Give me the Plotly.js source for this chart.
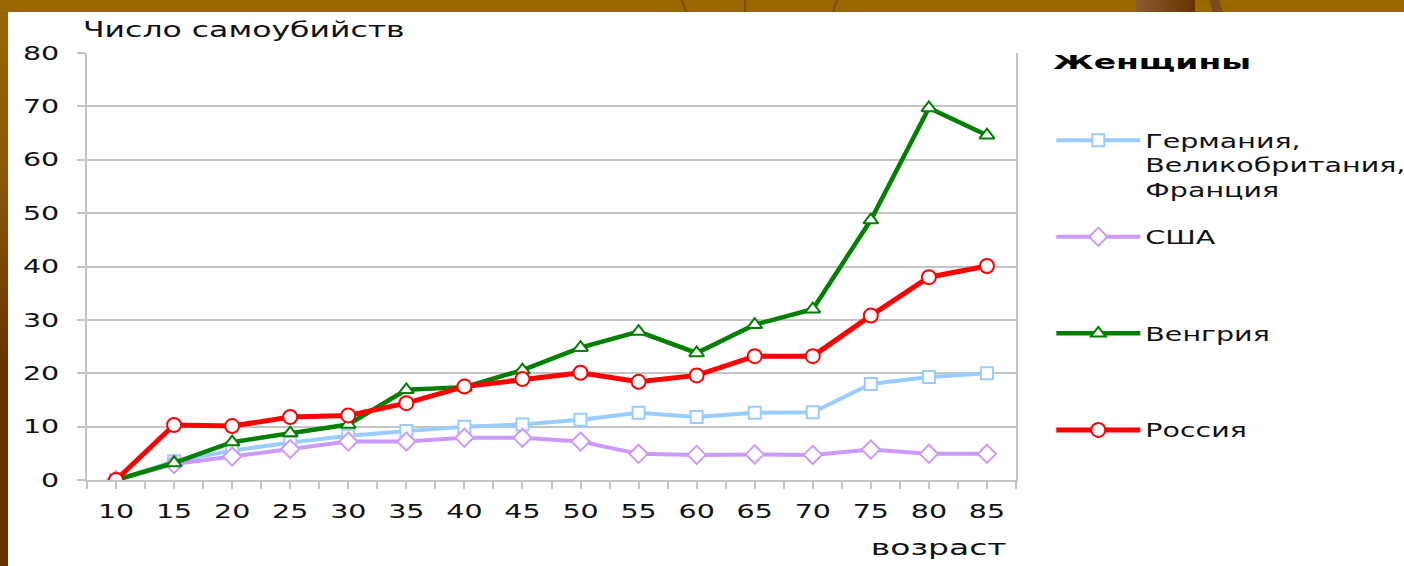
<!DOCTYPE html>
<html>
<head>
<meta charset="utf-8">
<script src="https://cdn.plot.ly/plotly-3.0.1.min.js"></script>
<style>
  html, body { margin: 0; padding: 0; background: #ffffff; }
  #wrap { position: relative; width: 1404px; height: 566px; overflow: hidden; background: #ffffff; }
  #chart { position: absolute; left: 0; top: 0; width: 1404px; height: 566px; }
  .deco { position: absolute; pointer-events: none; }
</style>
</head>
<body>
<div id="wrap">
  <div id="chart"></div>
  <div class="deco" style="left:0;top:0;width:1404px;height:12px;background:#996600;"></div>
  <div class="deco" style="left:0;top:0;width:8px;height:566px;background:linear-gradient(#996600 0%, #8a5a08 30%, #663300 65%, #663300 100%);"></div>
  <div class="deco" style="left:683px;top:0;width:2px;height:12px;background:#7a4a14;transform:skewX(20deg);"></div>
  <div class="deco" style="left:744px;top:0;width:2px;height:12px;background:#7a4a14;"></div>
  <div class="deco" style="left:834px;top:0;width:2px;height:12px;background:#7a4a14;transform:skewX(-20deg);"></div>
  <div class="deco" style="left:1136px;top:0;width:59px;height:12px;background:linear-gradient(90deg,#8c5a2e,#663300);"></div>
  <div class="deco" style="left:1211px;top:0;width:10px;height:12px;background:#7a4a1e;transform:skewX(15deg);"></div>
</div>
<script>
// ---- data ----
var ages = [10, 15, 20, 25, 30, 35, 40, 45, 50, 55, 60, 65, 70, 75, 80, 85];
var germanyUkFrance = [0, 3.5, 5.5, 7, 8.3, 9.2, 10, 10.4, 11.3, 12.6, 11.8, 12.6, 12.7, 18, 19.3, 20];
var usa = [0, 3, 4.4, 5.8, 7.2, 7.2, 7.9, 7.9, 7.2, 4.9, 4.7, 4.8, 4.7, 5.7, 4.9, 4.9];
var hungary = [0, 3.2, 7.1, 8.8, 10.4, 16.9, 17.4, 20.6, 24.8, 27.8, 23.8, 29.1, 32, 48.7, 69.7, 64.6];
var russia = [0, 10.3, 10.1, 11.8, 12.1, 14.4, 17.5, 18.9, 20.1, 18.4, 19.6, 23.2, 23.2, 30.8, 38, 40.1];

var seriesNames = ['Германия,<br>Великобритания,<br>Франция', 'США<br> <br> ', 'Венгрия<br> <br> ', 'Россия'];
var yTitle = 'Число самоубийств';
var xTitle = 'возраст';
var legendTitle = 'Женщины';

var FONT = 'DejaVu Sans, Verdana, sans-serif';
var TXT = '#111111';
var GRID = '#c4c4c4';

function series(y, name, color, symbol, lw, ms, group) {
  return {
    type: 'scatter', mode: 'lines+markers',
    x: ages, y: y, name: name, legendgroup: group,
    line: { color: color, width: lw },
    marker: { symbol: symbol, size: ms, color: '#ffffff', line: { color: color, width: 2 } },
    hoverinfo: 'x+y'
  };
}

var data = [
  series(germanyUkFrance, seriesNames[0], '#99CCFF', 'square', 4, 12, 'g1'),
  series(usa, seriesNames[1], '#CC99FF', 'diamond', 4, 14, 'g2'),
  series(hungary, seriesNames[2], '#008000', 'triangle-up', 4.5, 13, 'g3'),
  series(russia, seriesNames[3], '#FF0000', 'circle', 5, 14, 'g4')
];

var layout = {
  width: 1404, height: 566,
  margin: { l: 87, r: 388, t: 53, b: 86, autoexpand: false },
  paper_bgcolor: '#ffffff', plot_bgcolor: '#ffffff',
  font: { family: FONT, size: 19, color: TXT },
  xaxis: {
    range: [7.5, 87.5], tickmode: 'linear', tick0: 10, dtick: 5,
    showgrid: false, zeroline: false,
    showline: true, linecolor: GRID, linewidth: 2,
    ticks: 'outside', ticklen: 7, tickwidth: 2, tickcolor: GRID,
    minor: { tick0: 7.5, dtick: 5, ticks: 'outside', ticklen: 7, tickwidth: 2, tickcolor: GRID, showgrid: false },
    tickfont: { family: FONT, size: 19, color: TXT },
    ticklabelstandoff: 6,
    fixedrange: true
  },
  yaxis: {
    range: [0, 80], tickmode: 'linear', tick0: 0, dtick: 10,
    showgrid: true, gridcolor: GRID, gridwidth: 2, zeroline: false,
    showline: true, linecolor: GRID, linewidth: 2, mirror: true,
    ticks: 'outside', ticklen: 8, tickwidth: 2, tickcolor: GRID,
    tickfont: { family: FONT, size: 19, color: TXT },
    ticklabelstandoff: 14,
    fixedrange: true
  },
  showlegend: true,
  legend: {
    xref: 'paper', x: 1.038, xanchor: 'left',
    yref: 'container', y: 0.9235, yanchor: 'top',
    bgcolor: 'rgba(0,0,0,0)', borderwidth: 0,
    font: { family: FONT, size: 19, color: TXT },
    title: { text: legendTitle + '<br> <br> ', side: 'top', font: { family: FONT, size: 20, color: '#000000', weight: 'bold' } },
    valign: 'top', tracegroupgap: 19.5, itemwidth: 84,
    traceorder: 'grouped'
  },
  annotations: [
    { xref: 'paper', yref: 'paper', x: -0.006, y: 1.054, xanchor: 'left', yanchor: 'middle', align: 'left',
      text: yTitle, showarrow: false, font: { family: FONT, size: 21, color: TXT } },
    { xref: 'paper', yref: 'paper', x: 0.992, y: -0.158, xanchor: 'right', yanchor: 'middle', align: 'right',
      text: xTitle, showarrow: false, font: { family: FONT, size: 22, color: TXT } }
  ]
};

function stretchEl(el, k) {
  if (!el.textContent || !el.textContent.trim()) return;
  var w = el.getComputedTextLength();
  if (w > 1) {
    el.setAttribute('textLength', (w * k).toFixed(1));
    el.setAttribute('lengthAdjust', 'spacingAndGlyphs');
  }
}

function stretchText(gd, k, kTitle) {
  var texts = gd.querySelectorAll('svg text');
  texts.forEach(function (t) {
    var factor = t.classList.contains('legendtitletext') ? kTitle : k;
    var lines = t.querySelectorAll('tspan.line');
    var targets = lines.length ? Array.prototype.slice.call(lines) : [t];
    targets.forEach(function (el) { stretchEl(el, factor); });
  });
  // let the widened legend texts show in full
  gd.querySelectorAll('.legend [clip-path]').forEach(function (el) {
    el.removeAttribute('clip-path');
  });
}

Plotly.newPlot('chart', data, layout, { displayModeBar: false, staticPlot: true }).then(function (gd) {
  stretchText(gd, 1.5, 1.65);
});
</script>
</body>
</html>
